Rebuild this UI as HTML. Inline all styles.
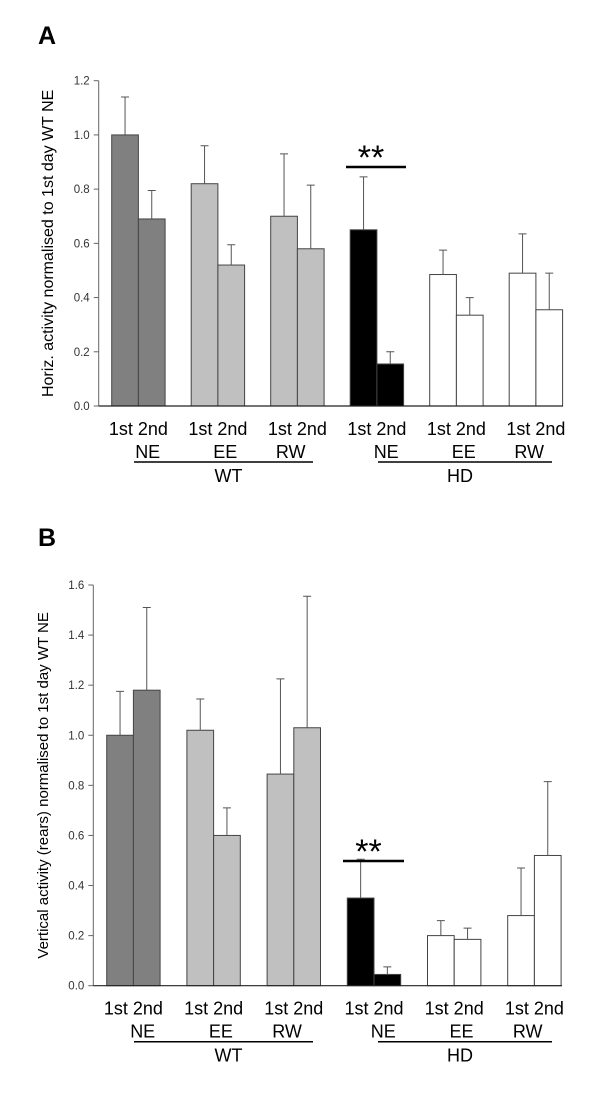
<!DOCTYPE html>
<html><head><meta charset="utf-8"><style>
body{margin:0;background:#fff;}
svg{display:block;font-family:"Liberation Sans",Arial,sans-serif;}
</style></head><body>
<svg id="fig" width="600" height="1114" viewBox="0 0 600 1114">
<text x="38" y="44" font-size="25" font-weight="bold">A</text>
<text x="38" y="546" font-size="25" font-weight="bold">B</text>
<g id="pa"></g>
<g id="pb"></g>
</svg>
<script>
const categories = ["WT NE 1st","WT NE 2nd","WT EE 1st","WT EE 2nd","WT RW 1st","WT RW 2nd","HD NE 1st","HD NE 2nd","HD EE 1st","HD EE 2nd","HD RW 1st","HD RW 2nd"];
const horizValues = [1.0,0.69,0.82,0.52,0.70,0.58,0.65,0.155,0.485,0.335,0.49,0.355];
const horizErrTop = [1.14,0.795,0.96,0.595,0.93,0.815,0.845,0.20,0.575,0.40,0.635,0.49];
const horizTicks = ["0.0","0.2","0.4","0.6","0.8","1.0","1.2"];
const vertValues = [1.0,1.18,1.02,0.60,0.845,1.03,0.35,0.045,0.20,0.185,0.28,0.52];
const vertErrTop = [1.175,1.51,1.145,0.71,1.225,1.555,0.505,0.075,0.26,0.23,0.47,0.815];
const vertTicks = ["0.0","0.2","0.4","0.6","0.8","1.0","1.2","1.4","1.6"];
const fills = ["#808080","#808080","#c0c0c0","#c0c0c0","#c0c0c0","#c0c0c0","#000","#000","#fff","#fff","#fff","#fff"];
const NS="http://www.w3.org/2000/svg";
function mk(g,tag,attrs,txt){const e=document.createElementNS(NS,tag);for(const k in attrs)e.setAttribute(k,attrs[k]);if(txt!==undefined)e.textContent=txt;g.appendChild(e);return e;}
function draw(cfg){
  const g=document.getElementById(cfg.id);
  const ymax=parseFloat(cfg.ticks[cfg.ticks.length-1]);
  const y=v=>cfg.y0-(v/ymax)*(cfg.y0-cfg.yTop);
  const bw=26.7;
  const x=i=>cfg.gx0+Math.floor(i/2)*cfg.gs+(i%2)*bw;
  let e=mk(g,'line',{x1:cfg.ax,y1:cfg.yTop,x2:cfg.ax,y2:cfg.y0,stroke:'#666','stroke-width':1});
  
  
  cfg.ticks.forEach(t=>{
    const v=parseFloat(t),yy=y(v);
    let l=mk(g,'line',{x1:cfg.ax-5,y1:yy,x2:cfg.ax,y2:yy,stroke:'#666','stroke-width':1});
    
    
    let tx=mk(g,'text',{x:cfg.ax-9,y:yy+4,'font-size':11.5,'text-anchor':'end',fill:'#333'},t);
    
    
  });
  cfg.values.forEach((v,i)=>{
    const xx=x(i),yv=y(v),ye=y(cfg.err[i]),cx=xx+bw/2;
    let b=mk(g,'rect',{x:xx,y:yv,width:bw,height:cfg.y0-yv,fill:fills[i],stroke:'#444','stroke-width':1});
    
    
    let el=mk(g,'path',{d:`M${cx},${yv}V${ye}M${cx-4},${ye}H${cx+4}`,stroke:'#555','stroke-width':1,fill:'none'});
    
    
  });
  e=mk(g,'line',{x1:cfg.ax,y1:cfg.y0,x2:cfg.xEnd,y2:cfg.y0,stroke:'#222','stroke-width':1.2});
  
  
  const envs=["NE","EE","RW"];
  const envOff=[36,34,20];
  for(let gI=0;gI<6;gI++){
    const gx=cfg.gx0+gI*cfg.gs;
    let t=mk(g,'text',{x:gx+bw,y:cfg.y0+29,'font-size':18,'text-anchor':'middle'},"1st 2nd");
    
    
    t=mk(g,'text',{x:gx+envOff[gI%3],y:cfg.y0+52,'font-size':18,'text-anchor':'middle'},envs[gI%3]);
    
    
  }
  [["WT",134,313],["HD",378,552]].forEach(([n,a,b])=>{
    let l=mk(g,'line',{x1:a,y1:cfg.y0+56,x2:b,y2:cfg.y0+56,stroke:'#000','stroke-width':1.5});
    
    
    let t=mk(g,'text',{x:(a+b)/2+(n=="WT"?5:-5),y:cfg.y0+76,'font-size':18,'text-anchor':'middle'},n);
    
    
  });
  let s=mk(g,'line',{x1:cfg.sigX1,y1:cfg.sigY,x2:cfg.sigX2,y2:cfg.sigY,stroke:'#000','stroke-width':2.5});
  
  
  s=mk(g,'text',{x:(cfg.sigX1+cfg.sigX2)/2-5,y:cfg.sigY+2,'font-size':34,'text-anchor':'middle'},"**");
  
  
  let yt=mk(g,'text',{transform:`translate(${cfg.titleX},${(cfg.y0+cfg.yTop)/2}) rotate(-90)`,'font-size':cfg.titleSize,'text-anchor':'middle'},cfg.title);
  
  
}
draw({id:'pa',values:horizValues,err:horizErrTop,ticks:horizTicks,ax:98.7,yTop:80.7,y0:406,gx0:111.7,gs:79.5,xEnd:563,sigX1:346,sigX2:406,sigY:167,titleX:53,titleSize:16,title:"Horiz. activity normalised to 1st day WT NE"});
draw({id:'pb',values:vertValues,err:vertErrTop,ticks:vertTicks,ax:93.3,yTop:585,y0:985.7,gx0:106.7,gs:80.2,xEnd:562,sigX1:343,sigX2:404,sigY:861,titleX:48,titleSize:15,title:"Vertical activity (rears) normalised to 1st day WT NE"});
</script>
</body></html>
